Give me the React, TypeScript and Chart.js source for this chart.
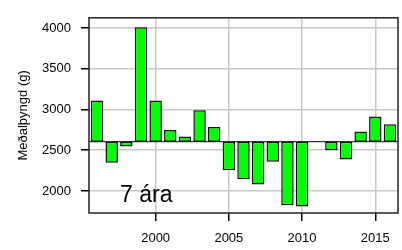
import React, { useEffect, useRef } from "react";
import { Chart, registerables } from "chart.js";

Chart.register(...registerables);

const years = [1996, 1997, 1998, 1999, 2000, 2001, 2002, 2003, 2004, 2005, 2006, 2007, 2008, 2009, 2010, 2011, 2012, 2013, 2014, 2015, 2016];
const weights: (number | null)[] = [3110, 2345, 2545, 4010, 3110, 2750, 2670, 2990, 2785, 2255, 2145, 2080, 2360, 1825, 1810, null, 2500, 2385, 2730, 2915, 2820];
const baseline = 2605;
const xTicks = [2000, 2005, 2010, 2015];
const yTicks = [2000, 2500, 3000, 3500, 4000];
const ageLabel = "7 ára";
const yTitle = "Meðalþyngd (g)";

const FONT = "'Liberation Sans', Arial, sans-serif";

export default function App() {
  const ref = useRef<HTMLCanvasElement>(null);

  useEffect(() => {
    document.body.style.margin = "0";
    const canvas = ref.current;
    if (!canvas) return;

    const data = years.map((yr, i) => {
      const v = weights[i];
      return { x: yr, y: v == null ? null : [baseline, v] };
    });

    const extras = {
      id: "extras",
      beforeDatasetsDraw(chart: any) {
        const { ctx, chartArea, scales } = chart;
        const y = scales.y.getPixelForValue(baseline);
        ctx.save();
        ctx.strokeStyle = "#000";
        ctx.lineWidth = 1;
        ctx.beginPath();
        ctx.moveTo(chartArea.left, y);
        ctx.lineTo(chartArea.right, y);
        ctx.stroke();
        ctx.restore();
      },
      afterDraw(chart: any) {
        const { ctx, chartArea } = chart;
        ctx.save();
        ctx.strokeStyle = "#222";
        ctx.lineWidth = 1.5;
        ctx.strokeRect(chartArea.left, chartArea.top, chartArea.right - chartArea.left, chartArea.bottom - chartArea.top);
        ctx.fillStyle = "#000";
        ctx.font = `23px ${FONT}`;
        ctx.textAlign = "left";
        ctx.textBaseline = "alphabetic";
        ctx.fillText(ageLabel, 120, 201.5);
        ctx.restore();
      },
    };

    const chart = new Chart(canvas, {
      type: "bar",
      data: {
        datasets: [
          {
            data: data as any,
            backgroundColor: "#00ff00",
            borderColor: "#111",
            borderWidth: 1.5,
            borderSkipped: false,
            barPercentage: 0.85,
            categoryPercentage: 1,
          },
        ],
      },
      options: {
        responsive: false,
        animation: false,
        layout: { padding: { top: 5, right: 4, left: 0, bottom: 0 } },
        plugins: { legend: { display: false }, tooltip: { enabled: false } },
        scales: {
          x: {
            type: "linear",
            min: 1995.45,
            max: 2016.55,
            offset: false,
            afterBuildTicks: (s: any) => {
              s.ticks = xTicks.map((v) => ({ value: v }));
            },
            afterFit: (s: any) => {
              s.height = 37;
            },
            grid: {
              offset: false,
              color: "#c8c8c8",
              lineWidth: 1.5,
              tickColor: "#000",
              tickLength: 8,
              tickWidth: 1.5,
            },
            border: { display: false },
            ticks: {
              callback: (v: any) => String(v),
              font: { family: FONT, size: 13 },
              color: "#000",
              padding: 10,
              maxRotation: 0,
              autoSkip: false,
            },
          },
          y: {
            type: "linear",
            min: 1729,
            max: 4127,
            afterBuildTicks: (s: any) => {
              s.ticks = yTicks.map((v) => ({ value: v }));
            },
            afterFit: (s: any) => {
              s.width = 89;
            },
            grid: {
              color: "#c8c8c8",
              lineWidth: 1.5,
              tickColor: "#000",
              tickLength: 8,
              tickWidth: 1.5,
            },
            border: { display: false },
            ticks: {
              callback: (v: any) => String(v),
              font: { family: FONT, size: 13 },
              color: "#000",
              padding: 10,
            },
            title: {
              display: true,
              text: yTitle,
              font: { family: FONT, size: 13 },
              color: "#000",
              padding: { top: 16, bottom: 0 },
            },
          },
        },
      },
      plugins: [extras],
    });

    return () => chart.destroy();
  }, []);

  return <canvas ref={ref} width={402} height={250} style={{ display: "block" }} />;
}
